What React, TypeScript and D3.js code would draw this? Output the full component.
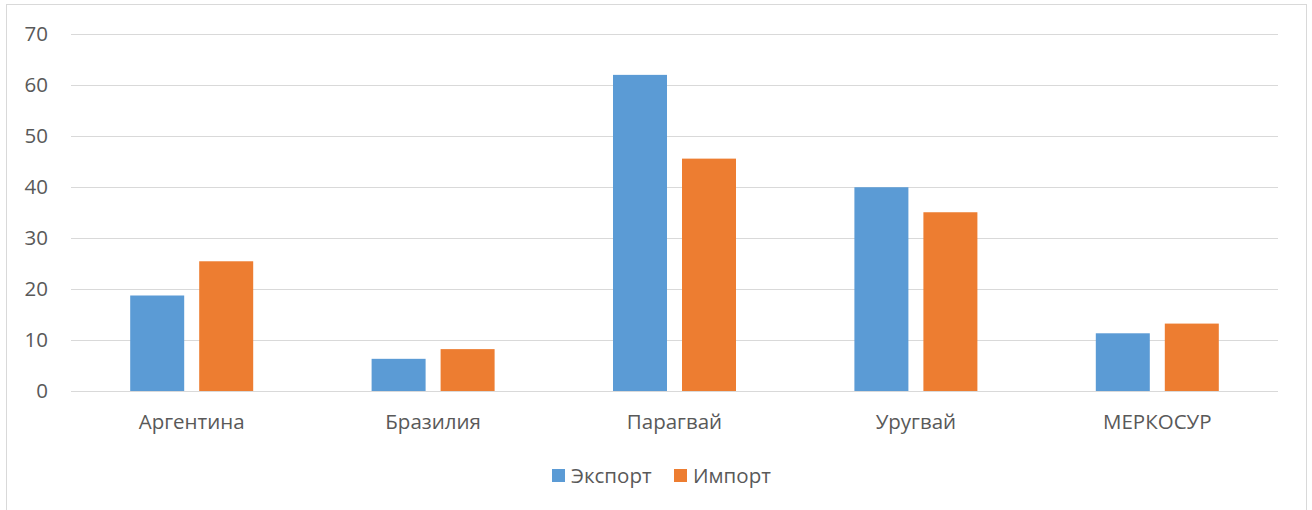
import React from "react";
import * as d3 from "d3";

const categories = ["Аргентина", "Бразилия", "Парагвай", "Уругвай", "МЕРКОСУР"];
const exportValues = [18.7, 6.3, 61.9, 39.9, 11.3];
const importValues = [25.4, 8.2, 45.5, 35.0, 13.2];
const seriesNames = ["Экспорт", "Импорт"];
const seriesColors = ["#5B9BD5", "#ED7D31"];
const yTicks = [0, 10, 20, 30, 40, 50, 60, 70];

const W = 1312;
const H = 510;
const plotLeft = 71;
const plotRight = 1278;
const plotTop = 33.5;
const plotBottom = 391;
const FONT = "'Open Sans', 'Liberation Sans', sans-serif";
const FS = 20.5;

export default function App() {
  const x = d3.scaleBand<string>().domain(categories).range([plotLeft, plotRight]).paddingInner(0).paddingOuter(0);
  const y = d3.scaleLinear().domain([0, 70]).range([plotBottom, plotTop]);
  const bw = x.bandwidth();
  const barW = 54;
  const gap = 15;
  const series = [exportValues, importValues];

  return (
    <svg width={W} height={H} style={{ position: "absolute", left: 0, top: 0, background: "#fff" }} fontFamily={FONT}>
      <rect x={6.5} y={4.5} width={1300} height={540} fill="#fff" stroke="#d9d9d9" strokeWidth={1} />
      {yTicks.map((t) => (
        <g key={t}>
          <line x1={plotLeft} x2={plotRight} y1={Math.round(y(t)) + 0.5} y2={Math.round(y(t)) + 0.5} stroke="#d9d9d9" strokeWidth={1} />
          <text x={48} y={y(t)} dy="0.35em" textAnchor="end" fontSize={FS} fill="#595959">{t}</text>
        </g>
      ))}
      {categories.map((c, i) => {
        const cx = (x(c) as number) + bw / 2;
        return (
          <g key={c}>
            {series.map((vals, s) => {
              const bx = s === 0 ? cx - gap / 2 - barW : cx + gap / 2;
              return (
                <rect key={s} x={bx} y={y(vals[i])} width={barW} height={y(0) - y(vals[i])} fill={seriesColors[s]} />
              );
            })}
            <text x={cx} y={422} dy="0.35em" textAnchor="middle" fontSize={FS} fill="#595959">{c}</text>
          </g>
        );
      })}
      {seriesNames.map((n, s) => {
        const lx = s === 0 ? 552 : 674;
        return (
          <g key={n}>
            <rect x={lx} y={469} width={13} height={13} fill={seriesColors[s]} />
            <text x={lx + 19} y={476} dy="0.35em" fontSize={FS} fill="#595959">{n}</text>
          </g>
        );
      })}
    </svg>
  );
}
